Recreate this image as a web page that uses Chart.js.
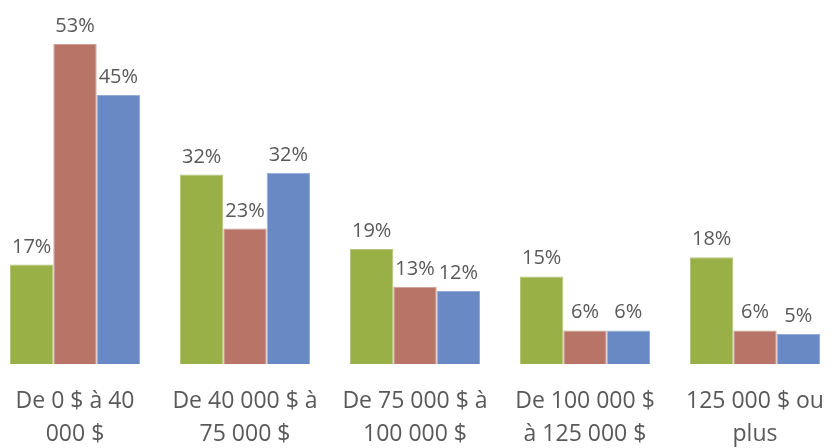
<!DOCTYPE html>
<html>
<head>
<meta charset="utf-8">
<script src="https://cdn.jsdelivr.net/npm/chart.js@4/dist/chart.umd.min.js"></script>
<style>
html,body{margin:0;padding:0;background:#fff;overflow:hidden;width:838px;height:448px;}
#wrap{position:absolute;left:-10px;top:0;width:850px;height:448px;}
</style>
</head>
<body>
<div id="wrap"><canvas id="c" width="850" height="448"></canvas></div>
<script>
const categories = [
  ["De 0 $ à 40", "000 $"],
  ["De 40 000 $ à", "75 000 $"],
  ["De 75 000 $ à", "100 000 $"],
  ["De 100 000 $", "à 125 000 $"],
  ["125 000 $ ou", "plus"]
];
// Values; labels show them rounded
const seriesGreen = [16.6, 31.6, 19.2, 14.6, 17.8];
const seriesRed   = [53.4, 22.6, 12.9, 5.6, 5.6];
const seriesBlue  = [44.9, 31.9, 12.2, 5.6, 5.0];

const labelPlugin = {
  id: 'valueLabels',
  afterDatasetsDraw(chart) {
    const ctx = chart.ctx;
    ctx.save();
    ctx.font = '20px "Open Sans", sans-serif';
    ctx.fillStyle = '#595959';
    ctx.textAlign = 'center';
    ctx.textBaseline = 'alphabetic';
    chart.data.datasets.forEach((ds, i) => {
      const meta = chart.getDatasetMeta(i);
      meta.data.forEach((el, j) => {
        ctx.fillText(Math.round(ds.data[j]) + '%', el.x, el.y - 12);
      });
    });
    ctx.restore();
  }
};

new Chart(document.getElementById('c'), {
  type: 'bar',
  data: {
    labels: categories,
    datasets: [
      { data: seriesGreen, backgroundColor: '#98B046', borderColor: '#b3c67a', borderWidth: 1 },
      { data: seriesRed, backgroundColor: '#B87466', borderColor: '#cf9d92', borderWidth: 1 },
      { data: seriesBlue, backgroundColor: '#6889C3', borderColor: '#95acd6', borderWidth: 1 }
    ]
  },
  options: {
    responsive: false,
    animation: false,
    events: [],
    layout: { padding: { top: 2, left: 0, right: 0, bottom: 0 } },
    datasets: { bar: { categoryPercentage: 0.765, barPercentage: 1.0 } },
    plugins: { legend: { display: false }, tooltip: { enabled: false } },
    scales: {
      y: { display: false, min: 0, max: 60.4 },
      x: {
        grid: { display: false, drawTicks: false },
        border: { display: false },
        ticks: {
          color: '#595959',
          font: { family: '"Open Sans", sans-serif', size: 23, lineHeight: 1.42 },
          padding: 21,
          maxRotation: 0,
          autoSkip: false
        },
        afterFit(scale) { scale.height = 84; scale.paddingLeft = 0; scale.paddingRight = 0; }
      }
    }
  },
  plugins: [labelPlugin]
});
</script>
</body>
</html>
